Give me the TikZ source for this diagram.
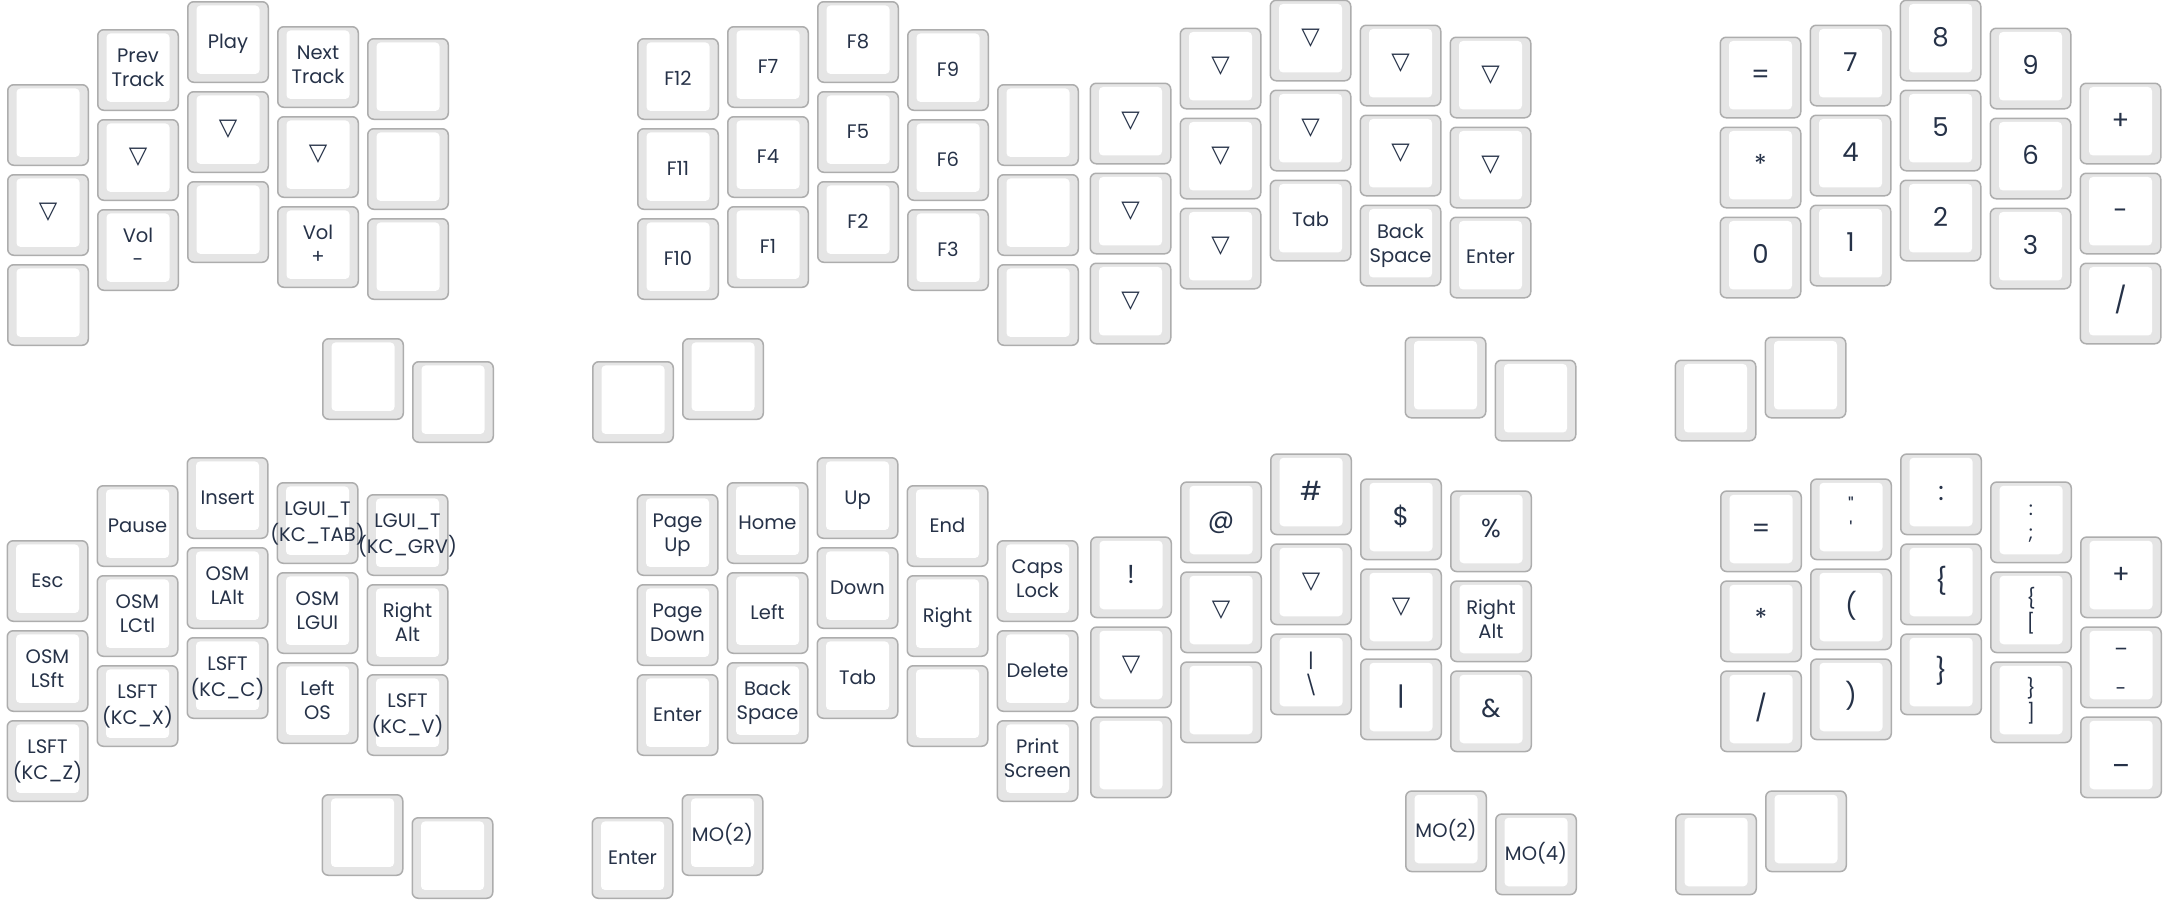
\documentclass[tikz,border=0pt]{standalone}
\usepackage{fontspec}
\newfontfamily\kf{Poppins}
\newfontfamily\djv{DejaVu Sans}
\definecolor{keyedge}{RGB}{173,173,173}
\definecolor{keyside}{RGB}{229,229,229}
\definecolor{keytext}{RGB}{38,50,72}
\tikzset{
  keyout/.style={draw=keyedge, fill=keyside, line width=1.5pt, rounded corners=6pt, minimum width=80.5pt, minimum height=80.5pt, inner sep=0pt, outer sep=0pt},
  keyin/.style={fill=white, rounded corners=4pt, minimum width=63pt, minimum height=68.5pt, inner sep=0pt, outer sep=0pt},
  lab/.style={font=\kf\fontsize{19.5}{24}\selectfont, text=keytext, inner sep=0pt, anchor=base},
  biglab/.style={font=\kf\fontsize{26}{30}\selectfont, text=keytext, inner sep=0pt, anchor=base},
  trilab/.style={font=\djv\fontsize{24}{28}\selectfont, text=keytext, inner sep=0pt},
}
\newcommand\mkkey[3]{\node[keyout] (#1) at ({#2+41},{#3+41}) {};\node[keyin] (#1-in) at ({#2+41},{#3+38.7}) {};}
\newcommand\kS[2]{\node[lab] (#1-t) at ([yshift=-46.5pt]#1.north) {#2};}
\newcommand\kD[3]{\node[lab] (#1-t) at ([yshift=-33pt]#1.north) {\begin{tabular}[t]{@{}c@{}}#2\\#3\end{tabular}};}
\newcommand\kB[2]{\node[biglab] (#1-t) at ([yshift=-46.5pt]#1.north) {#2};}
\newcommand\kV[1]{\node[trilab] (#1-t) at ([yshift=-38pt]#1.north) {▽};}
% left half: columns staggered 83,28,0,25,37
\newcommand\Lblock[3]{%
 \mkkey{#100}{#2}{#3+83}\mkkey{#101}{#2}{#3+173}\mkkey{#102}{#2}{#3+263}%
 \mkkey{#110}{#2+90}{#3+28}\mkkey{#111}{#2+90}{#3+118}\mkkey{#112}{#2+90}{#3+208}%
 \mkkey{#120}{#2+180}{#3}\mkkey{#121}{#2+180}{#3+90}\mkkey{#122}{#2+180}{#3+180}%
 \mkkey{#130}{#2+270}{#3+25}\mkkey{#131}{#2+270}{#3+115}\mkkey{#132}{#2+270}{#3+205}%
 \mkkey{#140}{#2+360}{#3+37}\mkkey{#141}{#2+360}{#3+127}\mkkey{#142}{#2+360}{#3+217}%
 \mkkey{#1t1}{#2+315}{#3+337}\mkkey{#1t2}{#2+405}{#3+360}}
% right half: columns staggered 37,25,0,28,83
\newcommand\Rblock[3]{%
 \mkkey{#100}{#2}{#3+37}\mkkey{#101}{#2}{#3+127}\mkkey{#102}{#2}{#3+217}%
 \mkkey{#110}{#2+90}{#3+25}\mkkey{#111}{#2+90}{#3+115}\mkkey{#112}{#2+90}{#3+205}%
 \mkkey{#120}{#2+180}{#3}\mkkey{#121}{#2+180}{#3+90}\mkkey{#122}{#2+180}{#3+180}%
 \mkkey{#130}{#2+270}{#3+28}\mkkey{#131}{#2+270}{#3+118}\mkkey{#132}{#2+270}{#3+208}%
 \mkkey{#140}{#2+360}{#3+83}\mkkey{#141}{#2+360}{#3+173}\mkkey{#142}{#2+360}{#3+263}%
 \mkkey{#1t1}{#2-45}{#3+360}\mkkey{#1t2}{#2+45}{#3+337}}
\begin{document}
\begin{tikzpicture}[x=1pt,y=-1pt]
\fill[white] (0,0) rectangle (2166,902);
\useasboundingbox (0,0) rectangle (2166,902);
% ---------- layer 1, left half ----------
\Lblock{a}{7}{1}
\kV{a01}
\kD{a10}{Prev}{Track}\kV{a11}\kD{a12}{Vol}{-}
\kS{a20}{Play}\kV{a21}
\kD{a30}{Next}{Track}\kV{a31}\kD{a32}{Vol}{+}
% ---------- layer 1, right half ----------
\Rblock{b}{637}{1}
\kS{b00}{F12}\kS{b01}{F11}\kS{b02}{F10}
\kS{b10}{F7}\kS{b11}{F4}\kS{b12}{F1}
\kS{b20}{F8}\kS{b21}{F5}\kS{b22}{F2}
\kS{b30}{F9}\kS{b31}{F6}\kS{b32}{F3}
% ---------- layer 2, left half ----------
\Lblock{c}{1089.5}{-0.5}
\kV{c00}\kV{c01}\kV{c02}
\kV{c10}\kV{c11}\kV{c12}
\kV{c20}\kV{c21}\kS{c22}{Tab}
\kV{c30}\kV{c31}\kD{c32}{Back}{Space}
\kV{c40}\kV{c41}\kS{c42}{Enter}
% ---------- layer 2, right half ----------
\Rblock{d}{1719.5}{-0.5}
\kB{d00}{=}\kB{d01}{*}\kB{d02}{0}
\kB{d10}{7}\kB{d11}{4}\kB{d12}{1}
\kB{d20}{8}\kB{d21}{5}\kB{d22}{2}
\kB{d30}{9}\kB{d31}{6}\kB{d32}{3}
\kB{d40}{+}\kB{d41}{-}\kB{d42}{/}
% ---------- layer 3, left half ----------
\Lblock{e}{6.5}{457}
\kS{e00}{Esc}\kD{e01}{OSM}{LSft}\kD{e02}{LSFT}{(KC\_Z)}
\kS{e10}{Pause}\kD{e11}{OSM}{LCtl}\kD{e12}{LSFT}{(KC\_X)}
\kS{e20}{Insert}\kD{e21}{OSM}{LAlt}\kD{e22}{LSFT}{(KC\_C)}
\kD{e30}{LGUI\_T}{(KC\_TAB)}\kD{e31}{OSM}{LGUI}\kD{e32}{Left}{OS}
\kD{e40}{LGUI\_T}{(KC\_GRV)}\kD{e41}{Right}{Alt}\kD{e42}{LSFT}{(KC\_V)}
% ---------- layer 3, right half ----------
\Rblock{f}{636.5}{457}
\kD{f00}{Page}{Up}\kD{f01}{Page}{Down}\kS{f02}{Enter}
\kS{f10}{Home}\kS{f11}{Left}\kD{f12}{Back}{Space}
\kS{f20}{Up}\kS{f21}{Down}\kS{f22}{Tab}
\kS{f30}{End}\kS{f31}{Right}
\kD{f40}{Caps}{Lock}\kS{f41}{Delete}\kD{f42}{Print}{Screen}
\kS{ft1}{Enter}\kS{ft2}{MO(2)}
% ---------- layer 4, left half ----------
\Lblock{g}{1090}{453.3}
\kB{g00}{!}\kV{g01}
\kB{g10}{@}\kV{g11}
\kB{g20}{\#}\kV{g21}\kD{g22}{|}{\textbackslash}
\kB{g30}{\$}\kV{g31}\kB{g32}{|}
\kB{g40}{\%}\kD{g41}{Right}{Alt}\kB{g42}{\&}
\kS{gt1}{MO(2)}\kS{gt2}{MO(4)}
% ---------- layer 4, right half ----------
\Rblock{h}{1720}{453.3}
\kB{h00}{=}\kB{h01}{*}\kB{h02}{/}
\kD{h10}{"}{'}\kB{h11}{(}\kB{h12}{)}
\kB{h20}{:}\kB{h21}{\{}\kB{h22}{\}}
\kD{h30}{:}{;}\kD{h31}{\{}{{[}}\kD{h32}{\}}{]}
\kB{h40}{+}\node[lab] (h41-t) at ([yshift=-20pt]h41.north) {\begin{tabular}[t]{@{}c@{}}\_\\[24pt]-\end{tabular}};\kB{h42}{\_}
\end{tikzpicture}
\end{document}
